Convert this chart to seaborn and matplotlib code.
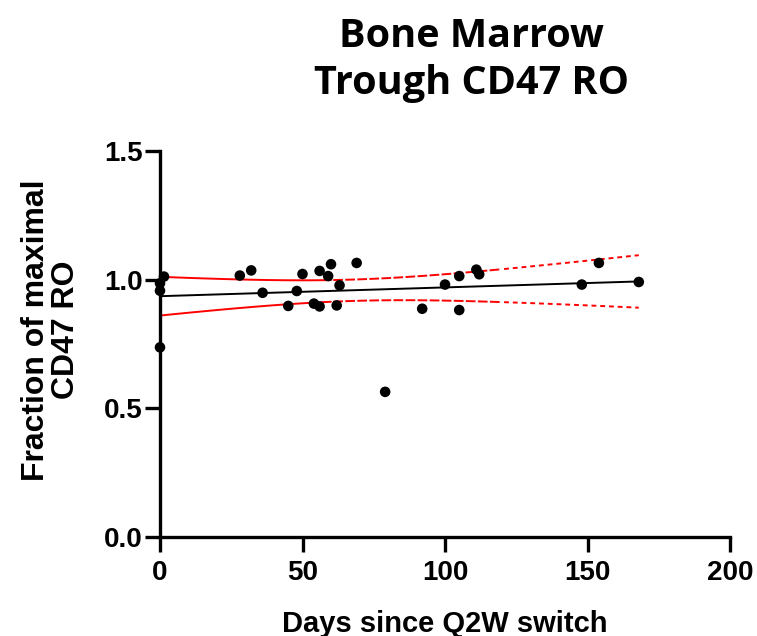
import numpy as np
import pandas as pd
import matplotlib
matplotlib.use("Agg")
import matplotlib.pyplot as plt
import seaborn as sns

# ---- data ----
days = [0, 0, 0, 1.4, 28, 32, 36, 45, 48, 50, 54, 56, 56, 59, 60, 62, 63, 69, 79,
        92, 100, 105, 105, 111, 112, 148, 154, 168]
ro = [0.737, 0.957, 0.986, 1.012, 1.016, 1.036, 0.949, 0.898, 0.956, 1.022, 0.907,
      0.896, 1.034, 1.014, 1.060, 0.900, 0.978, 1.065, 0.564,
      0.887, 0.981, 1.014, 0.882, 1.039, 1.021, 0.981, 1.065, 0.991]
x_ticks = [0, 50, 100, 150, 200]
y_ticks = [0.0, 0.5, 1.0, 1.5]
y_ticklabels = ["0.0", "0.5", "1.0", "1.5"]
title = "Bone Marrow\nTrough CD47 RO"
xlabel = "Days since Q2W switch"
ylabel = "Fraction of maximal\nCD47 RO"

df = pd.DataFrame({"days": days, "ro": ro})

# linear regression with 95% confidence band
x = np.asarray(days, float)
y = np.asarray(ro, float)
n = len(x)
slope, intercept = np.polyfit(x, y, 1)
resid = y - (intercept + slope * x)
s = np.sqrt(np.sum(resid**2) / (n - 2))
tcrit = 2.056  # t(0.975, df=26)
xg = np.linspace(0, x.max(), 200)
yg = intercept + slope * xg
se = s * np.sqrt(1 / n + (xg - x.mean())**2 / np.sum((x - x.mean())**2))
band = pd.DataFrame({"x": xg, "fit": yg, "lo": yg - tcrit * se, "hi": yg + tcrit * se})

sns.set_theme(style="ticks")
plt.rcParams['font.family'] = ['Liberation Sans', 'DejaVu Sans']
plt.rcParams['text.color'] = 'black'
plt.rcParams['axes.labelcolor'] = 'black'
plt.rcParams['xtick.color'] = 'black'
plt.rcParams['ytick.color'] = 'black'

W, H = 757, 636
fig = plt.figure(figsize=(W / 100, H / 100), dpi=100)
ax = fig.add_axes([160 / W, 1 - 537 / H, (730 - 160) / W, (537 - 151) / H])

# confidence band: solid near data-dense area, dashed beyond
seg1 = band[band.x <= 60]
seg2 = band[(band.x >= 60) & (band.x <= 120)]
seg3 = band[band.x >= 120]
for seg, ls in [(seg1, "-"), (seg2, (0, (5, 1.2))), (seg3, (0, (2.5, 2)))]:
    for col in ["lo", "hi"]:
        sns.lineplot(data=seg, x="x", y=col, color="red", lw=1.4, ls=ls, ax=ax,
                     estimator=None, sort=True, clip_on=False)

sns.lineplot(data=band, x="x", y="fit", color="black", lw=1.4, ax=ax,
             estimator=None, clip_on=False)

sns.scatterplot(data=df, x="days", y="ro", color="black", s=58, edgecolor="none",
                ax=ax, clip_on=False, zorder=5)

ax.set_xlim(0, 200)
ax.set_ylim(0, 1.5)
ax.set_xticks(x_ticks)
ax.set_yticks(y_ticks)
ax.set_yticklabels(y_ticklabels)
for sp in ["top", "right"]:
    ax.spines[sp].set_visible(False)
for sp in ["left", "bottom"]:
    ax.spines[sp].set_linewidth(2.4)
    ax.spines[sp].set_color("black")
ax.tick_params(axis="both", width=2.4, length=10.5, color="black", labelsize=20)
ax.tick_params(axis="x", pad=6)
ax.tick_params(axis="y", pad=2)
for lab in ax.get_xticklabels() + ax.get_yticklabels():
    lab.set_fontweight("bold")

ax.set_xlabel(xlabel, fontsize=21, fontweight="bold", labelpad=17)
ax.set_ylabel("")
fig.text(51 / W, 1 - 330 / H, ylabel, rotation=90, ha="center", va="center",
         fontsize=23, fontweight="bold", linespacing=1.0)

fig.text(471 / W, 1 - 60 / H, title, ha="center", va="center",
         fontsize=28.5, fontweight="bold", family=["Open Sans", "DejaVu Sans"],
         linespacing=1.28)

fig.savefig("out.png", dpi=100)
